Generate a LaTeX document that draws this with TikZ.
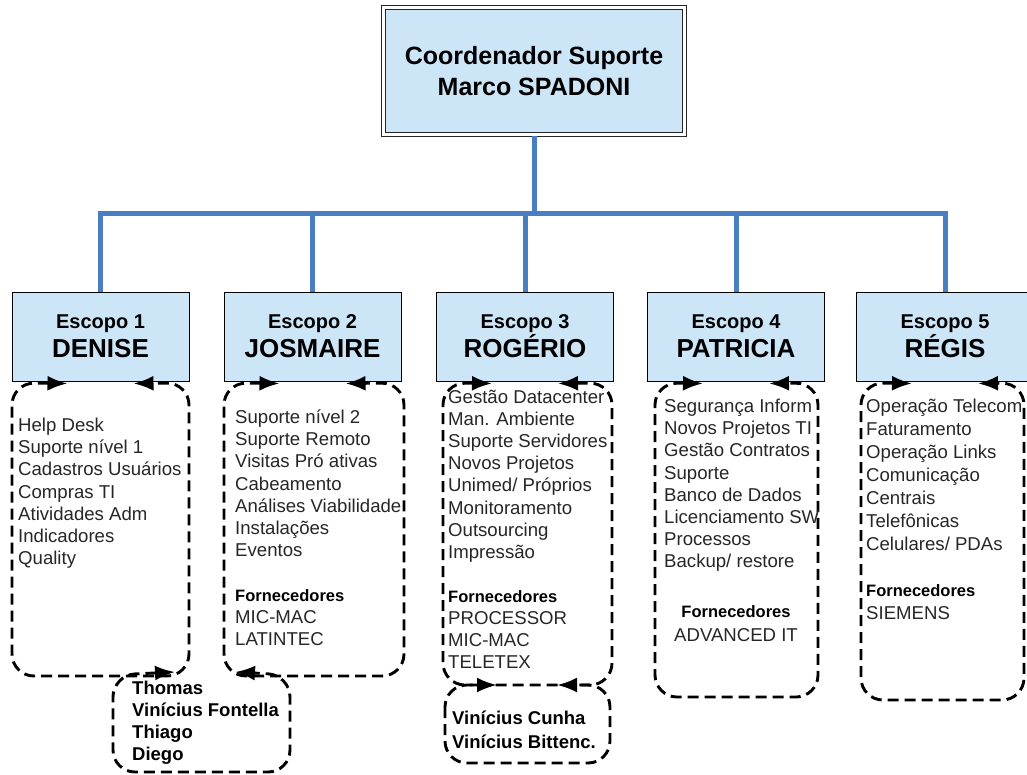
\documentclass[tikz,border=0pt]{standalone}
\usepackage{fontspec}
\setmainfont{Liberation Sans}
\usetikzlibrary{arrows.meta,calc}
\definecolor{headfill}{HTML}{CCE6F7}
\definecolor{busblue}{HTML}{4A7EC2}
\definecolor{itemgray}{HTML}{262626}
\newcommand\fsz[2]{\fontsize{#1}{#2}\selectfont}
\newcommand\plist[2]{\parbox[t]{#1}{\raggedright #2}}
\newcommand\supl{\textbf{\color{black}\fsz{16.5}{22}Fornecedores}}

\begin{document}
\begin{tikzpicture}[x=1pt,y=-1pt,
  headbox/.style={draw=black, line width=0.9pt, fill=headfill, minimum width=177pt,
    minimum height=89pt, inner sep=0pt, align=center, font=\bfseries\fsz{20}{29}},
  topbox/.style={draw=black!85, line width=0.9pt, fill=headfill, minimum width=297pt,
    minimum height=123pt, inner sep=0pt, align=center, font=\bfseries\fsz{25}{31}},
  bus/.style={busblue, line width=5pt},
  scopeline/.style={black, line width=2.9pt, dash pattern=on 11pt off 6pt,
    rounded corners=22pt, line join=round},
  bothtips/.style={{Latex[length=20pt,width=15pt]}-{Latex[length=20pt,width=15pt]}},
  listtext/.style={anchor=base west, inner sep=0pt, text=itemgray, font=\fsz{18.6}{22.2}},
  teamtext/.style={anchor=base west, inner sep=0pt, font=\bfseries\fsz{18.5}{22}},
]
\clip (0,0) rectangle (1027,774);

% coordinator, with its outer frame
\node[topbox] (chief) at (534,71) {Coordenador Suporte\\Marco SPADONI};
\draw[black!85, line width=0.9pt] ($(chief.north west)+(-3.5,-3.5)$) rectangle ($(chief.south east)+(3.5,3.5)$);

% scope heads
\node[headbox] (e1) at (100.5,336.5) {Escopo 1\\\fsz{26}{30}DENISE};
\node[headbox] (e2) at (312.5,336.5) {Escopo 2\\\fsz{26}{30}JOSMAIRE};
\node[headbox] (e3) at (525,336.5) {Escopo 3\\\fsz{26}{30}ROGÉRIO};
\node[headbox] (e4) at (736,336.5) {Escopo 4\\\fsz{26}{30}PATRICIA};
\node[headbox] (e5) at (945,336.5) {Escopo 5\\\fsz{26}{30}RÉGIS};

% organisation bus
\coordinate (busy) at (0,213);
\draw[bus] ($(chief.south)+(0,3.5)$) -- (chief.south |- busy);
\draw[bus, line cap=rect] (e1.north |- busy) -- (e5.north |- busy);
\foreach \e in {e1,e2,e3,e4,e5}
  \draw[bus] (\e.north |- busy) -- (\e.north);

% scope frames
\coordinate (d1a) at (12,383);  \coordinate (d1b) at (189,676);
\coordinate (d2a) at (224,383); \coordinate (d2b) at (404,676);
\coordinate (d3a) at (443,383); \coordinate (d3b) at (612,685);
\coordinate (d4a) at (655,383); \coordinate (d4b) at (818,697);
\coordinate (d5a) at (861,383); \coordinate (d5b) at (1024,700);
\coordinate (t1) at (113,675);  \coordinate (t2) at (290,772);
\coordinate (v1) at (445,685);  \coordinate (v2) at (610,763);

\draw[scopeline,bothtips] ($(e1.south)+(-33,2)$) -- (d1a) -- (d1a |- d1b) -- (d1b) -- (d1b |- d1a) -- ($(e1.south)+(33,2)$);
\draw[scopeline,bothtips] ($(e2.south)+(-33,2)$) -- (d2a) -- (d2a |- d2b) -- (d2b) -- (d2b |- d2a) -- ($(e2.south)+(33,2)$);
\draw[scopeline,bothtips] ($(e3.south)+(-33,2)$) -- (d3a) -- (d3a |- d3b) -- ($(v1)+(52,0)$);
\draw[scopeline,bothtips] ($(e3.south)+(33,2)$) -- (d3b |- d3a) -- (d3b) -- ($(v2 |- v1)+(-53,0)$);
\draw[scopeline,bothtips] ($(e4.south)+(-33,2)$) -- (d4a) -- (d4a |- d4b) -- (d4b) -- (d4b |- d4a) -- ($(e4.south)+(33,2)$);
\draw[scopeline,bothtips] ($(e5.south)+(-33,2)$) -- (d5a) -- (d5a |- d5b) -- (d5b) -- (d5b |- d5a) -- ($(e5.south)+(33,2)$);

% team frames
\draw[scopeline,bothtips] ($(t1)+(62,-3)$) -- (t1) -- (t1 |- t2) -- (t2) -- (t2 |- t1) -- ($(t2 |- t1)+(-55,-3)$);
\draw[scopeline] (v1) rectangle (v2);

% activities
\node[listtext] (l1) at (18,431.5) {\plist{175pt}{Help Desk\\Suporte nível 1\\Cadastros Usuários\\Compras TI\\Atividades Adm\\Indicadores\\Quality}};
\node[listtext] (l2) at (235,423.5) {\plist{175pt}{Suporte nível 2\\Suporte Remoto\\Visitas Pró ativas\\Cabeamento\\Análises Viabilidade\\Instalações\\Eventos\\[22.2pt]\supl\\MIC-MAC\\LATINTEC}};
\node[listtext, font=\fsz{18.6}{22.1}] (l3) at (448,403.5) {\plist{175pt}{Gestão Datacenter\\Man. Ambiente\\Suporte Servidores\\Novos Projetos\\Unimed/ Próprios\\Monitoramento\\Outsourcing\\Impressão\\[22.1pt]\supl\\PROCESSOR\\MIC-MAC\\TELETEX}};
\node[listtext] (l4) at (664,412.5) {\plist{175pt}{Segurança Inform\\Novos Projetos TI\\Gestão Contratos\\Suporte\\Banco de Dados\\Licenciamento SW\\Processos\\Backup/ restore}};
\node[anchor=base, inner sep=0pt, text=itemgray, font=\fsz{18.6}{24}] (s4) at (736,617) {\parbox[t]{150pt}{\centering\supl\\ADVANCED IT}};
\node[listtext, font=\fsz{18.6}{23}] (l5) at (866,412.5) {\plist{175pt}{Operação Telecom\\Faturamento\\Operação Links\\Comunicação\\Centrais\\Telefônicas\\Celulares/ PDAs\\[23pt]\supl\\SIEMENS}};

% team members
\node[teamtext] (m1) at (132,694.5) {\plist{175pt}{Thomas\\Vinícius Fontella\\Thiago\\Diego}};
\node[teamtext, font=\bfseries\fsz{18.5}{24}] (m2) at (452,724.5) {\plist{160pt}{Vinícius Cunha\\Vinícius Bittenc.}};
\end{tikzpicture}
\end{document}
